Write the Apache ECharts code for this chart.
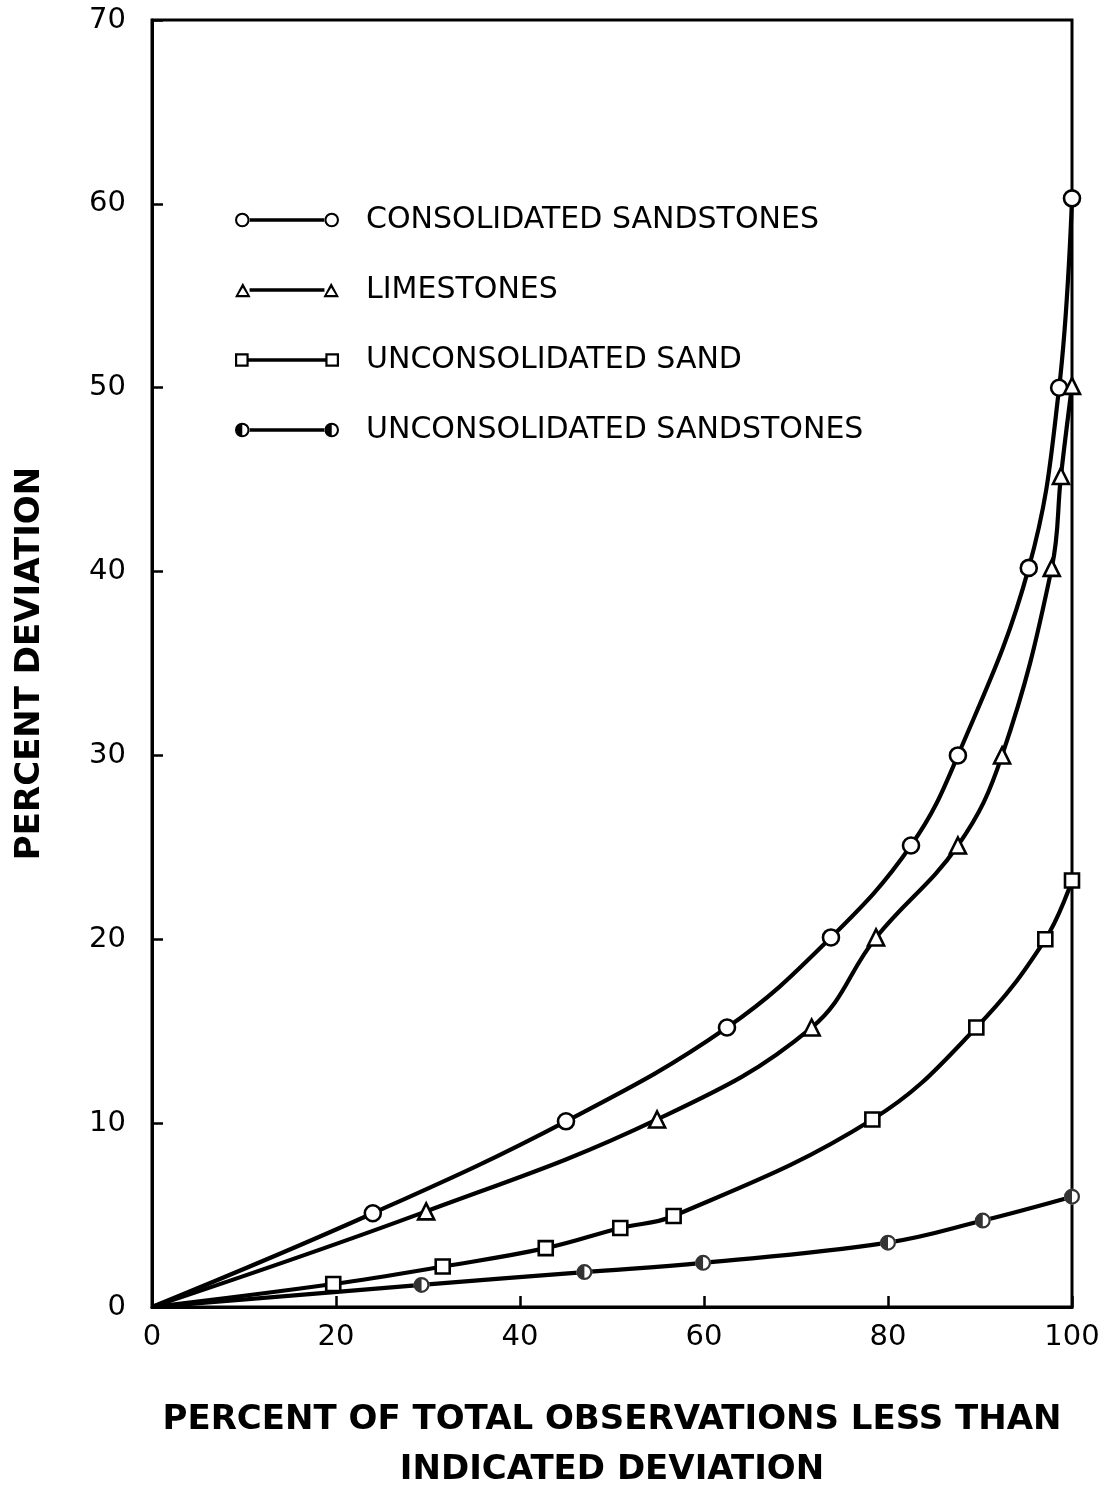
<!DOCTYPE html>
<html><head><meta charset="utf-8">
<script src="https://cdn.jsdelivr.net/npm/echarts@6/dist/echarts.min.js"></script>
<style>html,body{margin:0;padding:0;background:#fff}#c{width:1107px;height:1486px}</style>
</head><body><div id="c"></div>
<script>
// ---- data ----
const seriesNames = ['CONSOLIDATED SANDSTONES', 'LIMESTONES', 'UNCONSOLIDATED SAND', 'UNCONSOLIDATED SANDSTONES'];
const consolidatedX = [0, 24.0, 45.0, 62.5, 73.8, 82.5, 87.6, 95.3, 98.6, 100];
const consolidatedY = [0, 5.1, 10.1, 15.2, 20.1, 25.1, 30.0, 40.2, 50.0, 60.3];
const limestonesX = [0, 29.8, 54.9, 71.7, 78.7, 87.6, 92.4, 97.8, 98.8, 100];
const limestonesY = [0, 5.2, 10.2, 15.2, 20.1, 25.1, 30.0, 40.2, 45.2, 50.1];
const uncSandX = [0, 19.7, 31.6, 42.8, 50.9, 56.7, 78.3, 89.6, 97.1, 100];
const uncSandY = [0, 1.25, 2.2, 3.2, 4.3, 4.95, 10.2, 15.2, 20.0, 23.2];
const uncSandstonesX = [0, 29.3, 47.0, 59.9, 80.0, 90.3, 100];
const uncSandstonesY = [0, 1.2, 1.9, 2.4, 3.5, 4.7, 6.0];
const xTickLabels = ['0', '20', '40', '60', '80', '100'];
const yTickLabels = ['0', '10', '20', '30', '40', '50', '60', '70'];
const xTitle = 'PERCENT OF TOTAL OBSERVATIONS LESS THAN\nINDICATED DEVIATION';
const yTitle = 'PERCENT DEVIATION';

// ---- symbol paths ----
function circ(cx, R, cw) {
  const s = cw ? 1 : 0;
  return `M${cx},${-R} A${R},${R} 0 1,${s} ${cx},${R} A${R},${R} 0 1,${s} ${cx},${-R} Z `;
}
function ring(cx, R, r) { return circ(cx, R, false) + circ(cx, r, true); }
function halfRing(cx, R, r) { return circ(cx, R, false) + `M${cx},${-r} A${r},${r} 0 0,1 ${cx},${r} Z `; }
function tri(cx) {
  return `M${cx},-7 L${cx + 7.5},7 L${cx - 7.5},7 Z M${cx},-2.2 L${cx - 4.3},4.8 L${cx + 4.3},4.8 Z `;
}
function sq(cx) {
  return `M${cx - 6.5},-6.5 L${cx + 6.5},-6.5 L${cx + 6.5},6.5 L${cx - 6.5},6.5 Z M${cx - 4.4},-4.4 L${cx - 4.4},4.4 L${cx + 4.4},4.4 L${cx + 4.4},-4.4 Z `;
}
function bar(a, b) { return `M${a},-1.6 L${b},-1.6 L${b},1.6 L${a},1.6 Z `; }
const legendIcons = [
  'path://' + ring(7, 7, 5) + bar(13.5, 86.5) + ring(93, 7, 5),
  'path://' + tri(7.5) + bar(14, 86) + tri(92.5),
  'path://' + sq(7) + bar(13, 87) + sq(93),
  'path://' + halfRing(7, 7, 5) + bar(13.5, 86.5) + halfRing(93, 7, 5)
];
const halfPath = 'path://' + halfRing(0, 10, 7.2);

function pts(xs, ys, skipOrigin) {
  const out = [];
  xs.forEach((x, i) => {
    if (i === 0) { if (!skipOrigin) out.push({ value: [x, ys[i]], symbol: 'none' }); }
    else out.push([x, ys[i]]);
  });
  return out;
}

const FONT = 'DejaVu Sans';
const lineCommon = {
  type: 'line', smooth: 0.4,
  lineStyle: { color: '#000', width: 4.2 },
  itemStyle: { color: '#fff', borderColor: '#000', borderWidth: 2.6 },
  emphasis: { disabled: true }, animation: false, z: 3
};

const chart = echarts.init(document.getElementById('c'), null, { renderer: 'canvas' });
chart.setOption({
  backgroundColor: '#fff',
  animation: false,
  grid: { left: 152, right: 35, top: 20, bottom: 179, outerBoundsMode: 'none', containLabel: false,
    show: true, borderColor: '#000', borderWidth: 3, backgroundColor: 'transparent' },
  legend: {
    orient: 'vertical', left: 230, top: 200,
    itemWidth: 104, itemHeight: 16, itemGap: 40,
    itemStyle: { color: '#000', borderWidth: 0 },
    textStyle: { fontFamily: FONT, fontSize: 30, color: '#000', lineHeight: 30, padding: [0, 0, 0, 22] },
    data: seriesNames.map((n, i) => ({ name: n, icon: legendIcons[i] })),
    selectedMode: false
  },
  xAxis: {
    type: 'value', min: 0, max: 100, interval: 20,
    axisLine: { lineStyle: { color: '#000', width: 3 } },
    axisTick: { inside: true, length: 11, lineStyle: { color: '#000', width: 2.5 } },
    splitLine: { show: false },
    axisLabel: { margin: 16, fontFamily: FONT, fontSize: 29, color: '#000',
      formatter: (v) => xTickLabels[Math.round(v / 20)] },
    name: xTitle, nameLocation: 'middle', nameGap: 88,
    nameTextStyle: { fontFamily: FONT, fontWeight: 'bold', fontSize: 34, color: '#000', lineHeight: 50 }
  },
  yAxis: {
    type: 'value', min: 0, max: 70, interval: 10,
    axisLine: { lineStyle: { color: '#000', width: 3 } },
    axisTick: { inside: true, length: 11, lineStyle: { color: '#000', width: 2.5 } },
    splitLine: { show: false },
    axisLabel: { margin: 26, fontFamily: FONT, fontSize: 29, color: '#000',
      formatter: (v) => yTickLabels[Math.round(v / 10)] },
    name: yTitle, nameLocation: 'middle', nameGap: 105, nameRotate: 90,
    nameTextStyle: { fontFamily: FONT, fontWeight: 'bold', fontSize: 34, color: '#000' }
  },
  series: [
    Object.assign({}, lineCommon, { name: seriesNames[0], symbol: 'circle', symbolSize: 16, data: pts(consolidatedX, consolidatedY) }),
    Object.assign({}, lineCommon, { name: seriesNames[1], symbol: 'triangle', symbolSize: 16, data: pts(limestonesX, limestonesY) }),
    Object.assign({}, lineCommon, { name: seriesNames[2], symbol: 'rect', symbolSize: 14, data: pts(uncSandX, uncSandY) }),
    Object.assign({}, lineCommon, { name: seriesNames[3], symbol: 'circle', symbolSize: 16,
      itemStyle: { color: '#fff', borderWidth: 0 }, data: pts(uncSandstonesX, uncSandstonesY) }),
    { type: 'scatter', name: seriesNames[3] + ' marks', symbol: halfPath, symbolSize: 16, z: 4,
      itemStyle: { color: '#000' }, emphasis: { disabled: true }, animation: false,
      data: pts(uncSandstonesX, uncSandstonesY, true) }
  ]
});
</script>
</body></html>
